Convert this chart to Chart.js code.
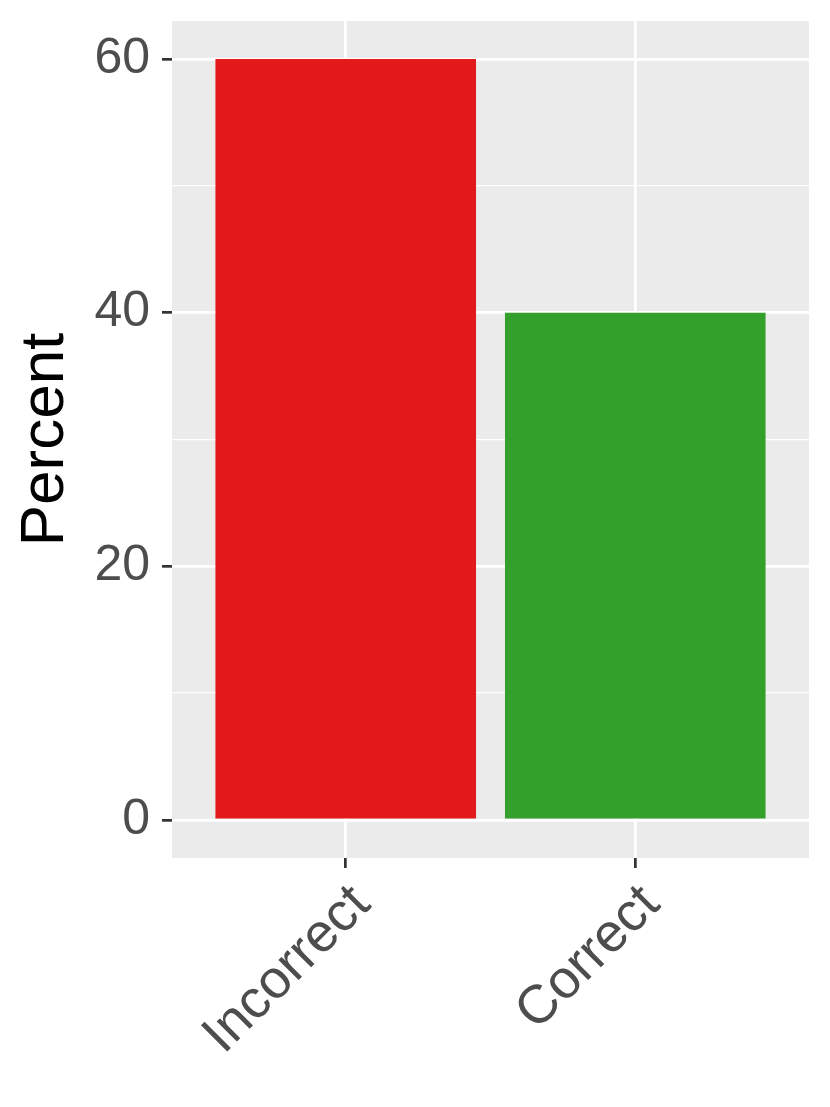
<!DOCTYPE html>
<html>
<head>
<meta charset="utf-8">
<script src="https://cdn.jsdelivr.net/npm/chart.js@4"></script>
<style>
  html, body { margin: 0; padding: 0; background: #fff; }
  canvas { display: block; }
</style>
</head>
<body>
<canvas id="chart" width="830" height="1107" style="width:830px;height:1107px"></canvas>
<script>
// ggplot-style bar chart: Incorrect vs Correct, percent

const categories = ['Incorrect', 'Correct'];
const percents = [60, 40];
const barColors = ['#E31A1C', '#33A02C'];
const yTickLabels = [0, 20, 40, 60];

const FONT = '"Liberation Sans", Arial, Helvetica, sans-serif';

// grey panel behind the grid, like theme_gray()
const panelBg = {
  id: 'panelBg',
  beforeDraw(chart) {
    const { ctx, chartArea: a } = chart;
    ctx.save();
    ctx.fillStyle = '#EBEBEB';
    ctx.fillRect(a.left, a.top, a.right - a.left, a.bottom - a.top);
    ctx.restore();
  },
};

const isMajor = v => yTickLabels.includes(v);

new Chart(document.getElementById('chart'), {
  type: 'bar',
  data: {
    datasets: [{
      data: percents.map((p, i) => ({ x: i + 1, y: p })),
      backgroundColor: barColors,
      borderWidth: 0,
      categoryPercentage: 1,
      barPercentage: 0.9,
    }],
  },
  options: {
    responsive: false,
    animation: false,
    devicePixelRatio: 1,
    layout: { padding: { top: 21, right: 21, left: 0, bottom: 0 } },
    plugins: { legend: { display: false }, tooltip: { enabled: false } },
    scales: {
      x: {
        type: 'linear',
        min: 0.4,
        max: 2.6,
        offset: false,
        afterBuildTicks(scale) { scale.ticks = categories.map((_, i) => ({ value: i + 1 })); },
        afterFit(scale) {
          scale.height = 249;
          scale.paddingLeft = 0;
          scale.paddingRight = 0;
        },
        border: { display: false },
        grid: { offset: false, color: '#FFFFFF', lineWidth: 2.7, tickColor: '#333333', tickWidth: 2.7, tickLength: 10 },
        ticks: {
          autoSkip: false,
          minRotation: 45,
          maxRotation: 45,
          padding: 5,
          labelOffset: 16,
          color: '#4D4D4D',
          font: { family: FONT, size: 54 },
          callback: v => categories[v - 1] ?? '',
        },
      },
      y: {
        min: -3,
        max: 63,
        afterFit(scale) {
          scale.width = 172;
          scale.paddingTop = 0;
          scale.paddingBottom = 0;
        },
        border: { display: false },
        grid: {
          color: '#FFFFFF',
          lineWidth: ctx => (isMajor(ctx.tick?.value) ? 2.7 : 1.35),
          tickColor: ctx => (isMajor(ctx.tick?.value) ? '#333333' : 'rgba(0,0,0,0)'),
          tickWidth: 2.7,
          tickLength: 10,
        },
        ticks: {
          stepSize: 10,
          includeBounds: false,
          autoSkip: false,
          padding: 12,
          color: '#4D4D4D',
          font: { family: FONT, size: 50 },
          callback: v => (isMajor(v) ? String(v) : ''),
        },
        title: {
          display: true,
          text: 'Percent',
          color: '#000000',
          padding: { top: 9, bottom: 0 },
          font: { family: FONT, size: 62 },
        },
      },
    },
  },
  plugins: [panelBg],
});
</script>
</body>
</html>
